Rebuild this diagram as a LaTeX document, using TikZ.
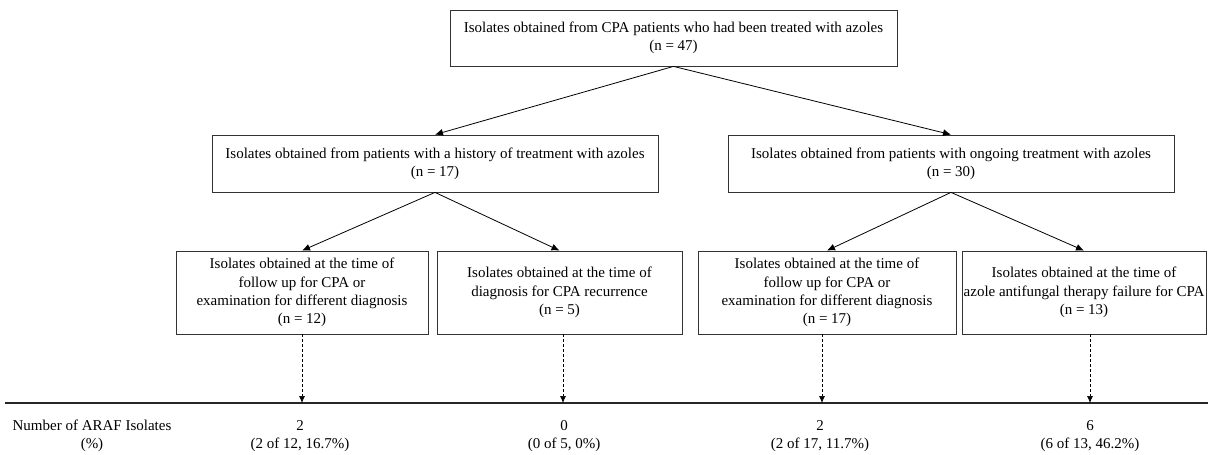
\documentclass[tikz,border=0pt]{standalone}
\usepackage{fontspec}
\setmainfont{Liberation Serif}
\usetikzlibrary{arrows.meta}
\begin{document}
\begin{tikzpicture}[x=1pt,y=-1pt,
  box/.style={draw=black!80, line width=0.8pt, rectangle, align=center, inner sep=1pt,
    font=\fontsize{15}{18.3}\selectfont},
  link/.style={draw=black, line width=0.8pt, -{Latex[length=8pt,width=7pt]}},
  dlink/.style={draw=black, line width=0.7pt, dashed, dash pattern=on 3pt off 2pt, -{Latex[length=7pt,width=6pt]}},
  res/.style={align=center, inner sep=0pt, font=\fontsize{15}{18}\selectfont}]
\useasboundingbox (0,0) rectangle (1208,455);
% boxes
\node[box, minimum width=447pt, minimum height=56pt] (top) at (673.5,38)
  {Isolates obtained from CPA patients who had been treated with azoles\\(n = 47)};
\node[box, minimum width=446pt, minimum height=57pt] (midL) at (435,163.5)
  {Isolates obtained from patients with a history of treatment with azoles\\(n = 17)};
\node[box, minimum width=446pt, minimum height=57pt] (midR) at (951,163.5)
  {Isolates obtained from patients with ongoing treatment with azoles\\(n = 30)};
\node[box, minimum width=252pt, minimum height=83pt] (b1) at (302,292.5)
  {Isolates obtained at the time of\\follow up for CPA or\\examination for different diagnosis\\(n = 12)};
\node[box, minimum width=245pt, minimum height=83pt] (b2) at (559.5,292.5)
  {Isolates obtained at the time of\\diagnosis for CPA recurrence\\(n = 5)};
\node[box, minimum width=258pt, minimum height=83pt] (b3) at (827,292.5)
  {Isolates obtained at the time of\\follow up for CPA or\\examination for different diagnosis\\(n = 17)};
\node[box, minimum width=244pt, minimum height=83pt] (b4) at (1084,292.5)
  {Isolates obtained at the time of\\azole antifungal therapy failure for CPA\\(n = 13)};
% arrows
\draw[link] (top.south) -- (midL.north);
\draw[link] (top.south) -- (midR.north);
\draw[link] (midL.south) -- (b1.north);
\draw[link] (midL.south) -- (b2.north);
\draw[link] (midR.south) -- (b3.north);
\draw[link] (midR.south) -- (b4.north);
% baseline
\coordinate (L1) at (5,403);
\coordinate (L2) at (1208,403);
\draw[black!85, line width=1.1pt] (L1) -- (L2);
\coordinate (r1) at (302,403);
\coordinate (r2) at (563,403);
\coordinate (r3) at (822,403);
\coordinate (r4) at (1090,403);
\draw[dlink] (b1.south -| r1) -- (r1);
\draw[dlink] (b2.south -| r2) -- (r2);
\draw[dlink] (b3.south -| r3) -- (r3);
\draw[dlink] (b4.south -| r4) -- (r4);
% results
\node[res] (lab) at (92,436) {Number of ARAF Isolates\\(\%)};
\node[res] (v1) at (300,436) {2\\(2 of 12, 16.7\%)};
\node[res] (v2) at (564,436) {0\\(0 of 5, 0\%)};
\node[res] (v3) at (820,436) {2\\(2 of 17, 11.7\%)};
\node[res] (v4) at (1090,436) {6\\(6 of 13, 46.2\%)};
\end{tikzpicture}
\end{document}
